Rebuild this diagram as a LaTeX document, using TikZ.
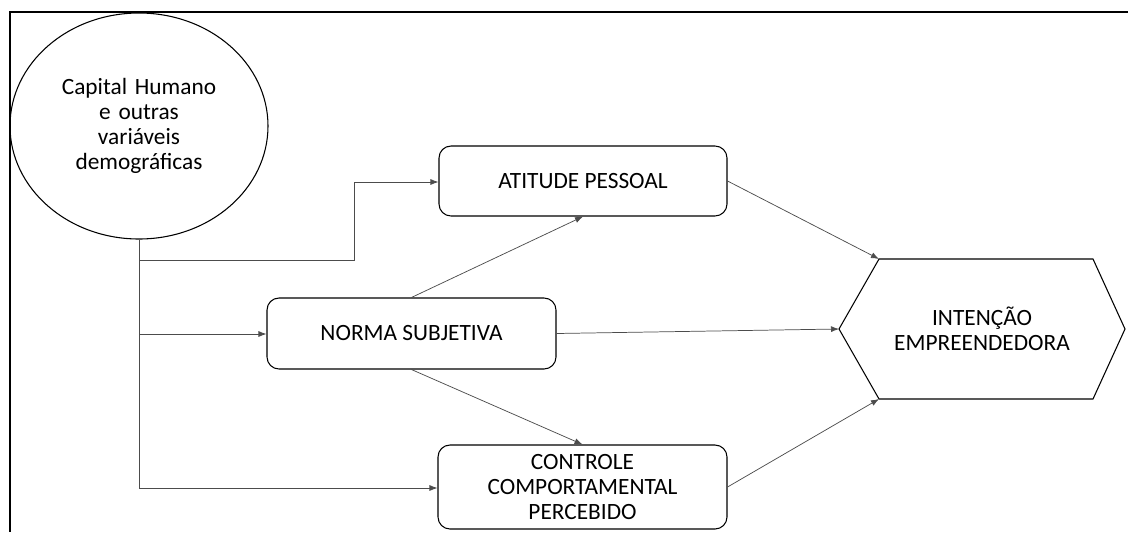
\documentclass[tikz,border=0pt]{standalone}
\usepackage{fontspec}
\setmainfont{Carlito}
\usetikzlibrary{arrows.meta,shapes.geometric}
\begin{document}
\begin{tikzpicture}[x=0.75pt,y=-0.75pt,
  box/.style={draw=black,line width=0.8pt,rounded corners=9pt,align=center,inner sep=0pt,font=\fontsize{17.5}{18.8}\selectfont},
  conn/.style={draw=black!70,line width=0.55pt},
  arr/.style={conn,-{Latex[length=6pt,width=4.5pt]}},
  lbl/.style={align=center,font=\fontsize{17.5}{18.8}\selectfont}]
\useasboundingbox (0,0) rectangle (1128,532);
% frame
\draw[line width=1.6pt] (1128,12) -- (10,12) -- (10,532);
% nodes
\node[draw=black,line width=0.8pt,ellipse,minimum width=193.5pt,minimum height=169.5pt,inner sep=0pt,lbl,text width=130pt] (cap) at (139,126) {Capital Humano\\ e outras\\ variáveis\\ demográficas};
\node[box,minimum width=216pt,minimum height=52.5pt] (att) at (583,181) {ATITUDE PESSOAL};
\node[box,minimum width=216.75pt,minimum height=53.25pt] (nor) at (411.5,333.5) {NORMA SUBJETIVA};
\node[box,minimum width=216.75pt,minimum height=63pt] (ctl) at (582.5,487) {CONTROLE\\ COMPORTAMENTAL\\ PERCEBIDO};
% hexagon
\coordinate (hL) at (839,329);
\coordinate (hTL) at (879,259);
\coordinate (hTR) at (1093,259);
\coordinate (hR) at (1125,329);
\coordinate (hBR) at (1093,399);
\coordinate (hBL) at (879,399);
\draw[line width=0.8pt] (hL) -- (hTL) -- (hTR) -- (hR) -- (hBR) -- (hBL) -- cycle;
\node[lbl] (int) at (982,329) {INTENÇÃO\\ EMPREENDEDORA};
% connectors
\coordinate (j1) at (139,260);
\coordinate (j2) at (354,260);
\coordinate (j3) at (354,182);
\coordinate (j4) at (139,334);
\coordinate (j5) at (139,488);
\draw[conn] (cap.south) -- (j5);
\draw[arr] (j5) -- (ctl.west |- j5);
\draw[arr] (j1) -- (j2) -- (j3) -- (att.west |- j3);
\draw[arr] (j4) -- (nor.west |- j4);
\draw[arr] (nor.north) -- (att.south);
\draw[arr] (nor.south) -- (ctl.north);
\draw[arr] (att.east) -- (hTL);
\draw[arr] (nor.east) -- (hL);
\draw[arr] (ctl.east) -- (hBL);
\end{tikzpicture}
\end{document}
